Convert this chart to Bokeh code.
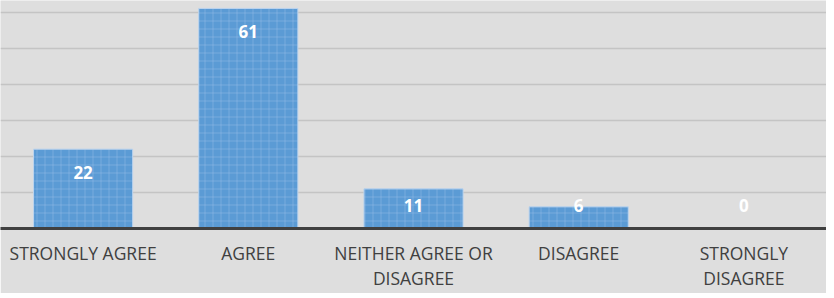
from bokeh.plotting import figure
from bokeh.models import ColumnDataSource, FactorRange, Range1d
from bokeh.core.properties import value
from bokeh.embed import file_html
from bokeh.resources import INLINE

categories = ["STRONGLY AGREE", "AGREE", "NEITHER AGREE OR\nDISAGREE", "DISAGREE", "STRONGLY\nDISAGREE"]
counts = [22, 61, 11, 6, 0]
label_text = [str(v) for v in counts]

# data label anchors: inside the bar end, never lower than a minimum height
label_y = [max(v - 6.4, 6.45) for v in counts]

src = ColumnDataSource(dict(cat=categories, val=counts, ly=label_y, txt=label_text))

p = figure(x_range=FactorRange(factors=categories, range_padding=0, factor_padding=0),
           y_range=Range1d(0, 63.2),
           frame_width=826, frame_height=228,
           output_backend="svg", toolbar_location=None,
           min_border_left=0, min_border_right=0, min_border_top=0, min_border_bottom=0)

bg = "#dedede"
p.background_fill_color = bg
p.border_fill_color = bg
p.outline_line_color = None

p.vbar(x="cat", top="val", width=0.6, source=src,
       fill_color="#5b9bd5", line_color="#bcd4ee", line_width=1,
       hatch_pattern="cross", hatch_color="#9dc1e8", hatch_alpha=0.4,
       hatch_scale=8, hatch_weight=1)

p.text(x="cat", y="ly", text="txt", source=src,
       text_align="center", text_baseline="middle",
       text_font=value("Open Sans"), text_font_style="bold",
       text_font_size="17px", text_color="white")

p.yaxis.visible = False
p.ygrid.grid_line_color = "#c4c4c4"
p.ygrid.grid_line_width = 1.5
p.ygrid.ticker = [10, 20, 30, 40, 50, 60]
p.xgrid.grid_line_color = None

xa = p.xaxis[0]
xa.axis_line_color = "#404040"
xa.axis_line_width = 3
xa.major_tick_line_color = None
xa.minor_tick_line_color = None
xa.major_tick_out = 0
xa.major_label_standoff = 12
xa.major_label_text_font = "Open Sans"
xa.major_label_text_font_size = "17.5px"
xa.major_label_text_color = "#404040"
xa.major_label_text_line_height = 1.08

open("out.html", "w").write(file_html(p, INLINE))
